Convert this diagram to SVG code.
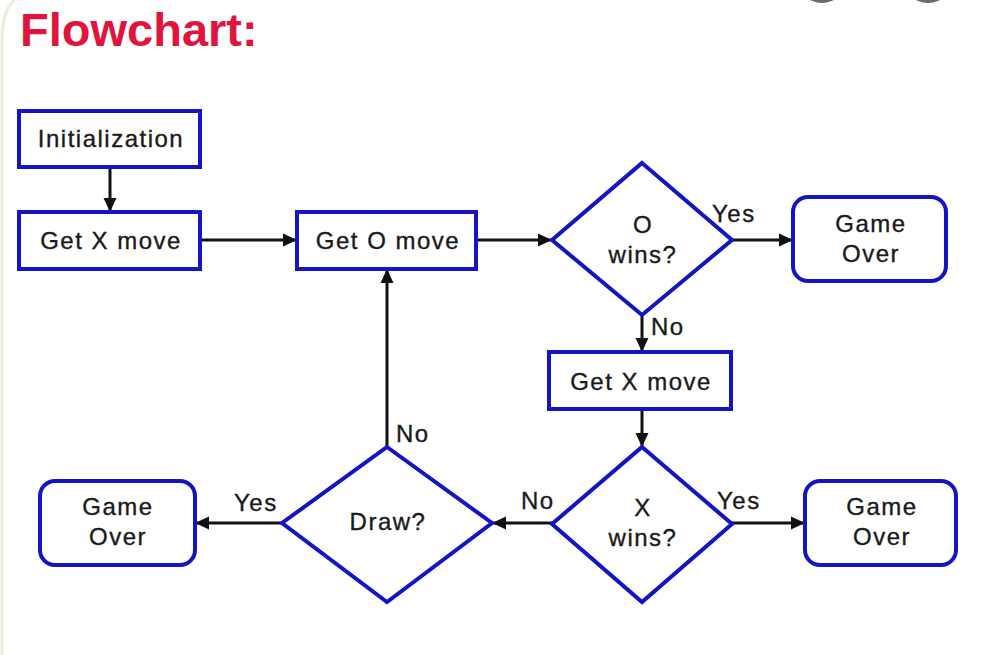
<svg xmlns="http://www.w3.org/2000/svg" width="990" height="655" viewBox="0 0 990 655">
<style>
.box{fill:#fff;stroke:#1414c4;stroke-width:4}
.t{font-family:"Liberation Sans",Arial,sans-serif;font-size:24px;letter-spacing:1.5px;fill:#1a1a1a;stroke:#1a1a1a;stroke-width:0.35;text-anchor:middle}
.lbl{font-family:"Liberation Sans",Arial,sans-serif;font-size:24px;letter-spacing:1.5px;fill:#1a1a1a;stroke:#1a1a1a;stroke-width:0.35}
.c{stroke:#111;stroke-width:3;fill:none;marker-end:url(#ah)}
</style>
<defs>
<marker id="ah" markerUnits="userSpaceOnUse" markerWidth="15" markerHeight="15" viewBox="0 0 15 15" refX="14" refY="7.5" orient="auto">
<path d="M0,1 L14,7.5 L0,14 z" fill="#111"/>
</marker>
</defs>
<rect x="0" y="0" width="990" height="655" fill="#fff"/>
<path d="M2,655 L2,40 Q2,12 14,0" fill="none" stroke="#e4f0df" stroke-width="3"/>
<circle cx="822" cy="-22" r="25" fill="#6a6a6a"/>
<circle cx="928" cy="-22" r="25" fill="#6a6a6a"/>
<text x="20" y="46" font-family="'Liberation Sans',Arial,sans-serif" font-size="47" font-weight="bold" fill="#e0143c">Flowchart:</text>
<g id="connectors">
<path class="c" d="M110,167 L110,212"/>
<path class="c" d="M200,240 L297,240"/>
<path class="c" d="M476,240 L552,240"/>
<path class="c" d="M732,240 L793,240"/>
<path class="c" d="M642,315 L642,352"/>
<path class="c" d="M642,409 L642,447"/>
<path class="c" d="M732,523 L805,523"/>
<path class="c" d="M552,523 L492,523"/>
<path class="c" d="M387,447 L387,269"/>
<path class="c" d="M282,523 L195,523"/>
<text class="lbl" x="712" y="222">Yes</text>
<text class="lbl" x="651" y="335">No</text>
<text class="lbl" x="717" y="509">Yes</text>
<text class="lbl" x="521" y="509">No</text>
<text class="lbl" x="396" y="442">No</text>
<text class="lbl" x="234" y="511">Yes</text>
</g>
<g id="init"><rect class="box" x="19" y="111" width="181" height="56"/><text class="t" x="111" y="147">Initialization</text></g>
<g id="getx1"><rect class="box" x="19" y="212" width="181" height="57"/><text class="t" x="111" y="249">Get X move</text></g>
<g id="geto"><rect class="box" x="297" y="212" width="179" height="57"/><text class="t" x="388" y="249">Get O move</text></g>
<g id="owins"><polygon class="box" points="642,163 732,240 642,315 552,240"/><text class="t" x="643" y="233">O</text><text class="t" x="643" y="263">wins?</text></g>
<g id="over1"><rect class="box" x="793" y="197" width="153" height="84" rx="15"/><text class="t" x="871" y="232">Game</text><text class="t" x="871" y="262">Over</text></g>
<g id="getx2"><rect class="box" x="549" y="352" width="182" height="57"/><text class="t" x="641" y="390">Get X move</text></g>
<g id="xwins"><polygon class="box" points="642,447 732,524 642,602 552,524"/><text class="t" x="643" y="516">X</text><text class="t" x="643" y="546">wins?</text></g>
<g id="over2"><rect class="box" x="805" y="481" width="151" height="84" rx="15"/><text class="t" x="882" y="515">Game</text><text class="t" x="882" y="545">Over</text></g>
<g id="draw"><polygon class="box" points="387,447 492,523 387,602 282,523"/><text class="t" x="388" y="530">Draw?</text></g>
<g id="over0"><rect class="box" x="40" y="481" width="155" height="84" rx="15"/><text class="t" x="118" y="515">Game</text><text class="t" x="118" y="545">Over</text></g>
</svg>
